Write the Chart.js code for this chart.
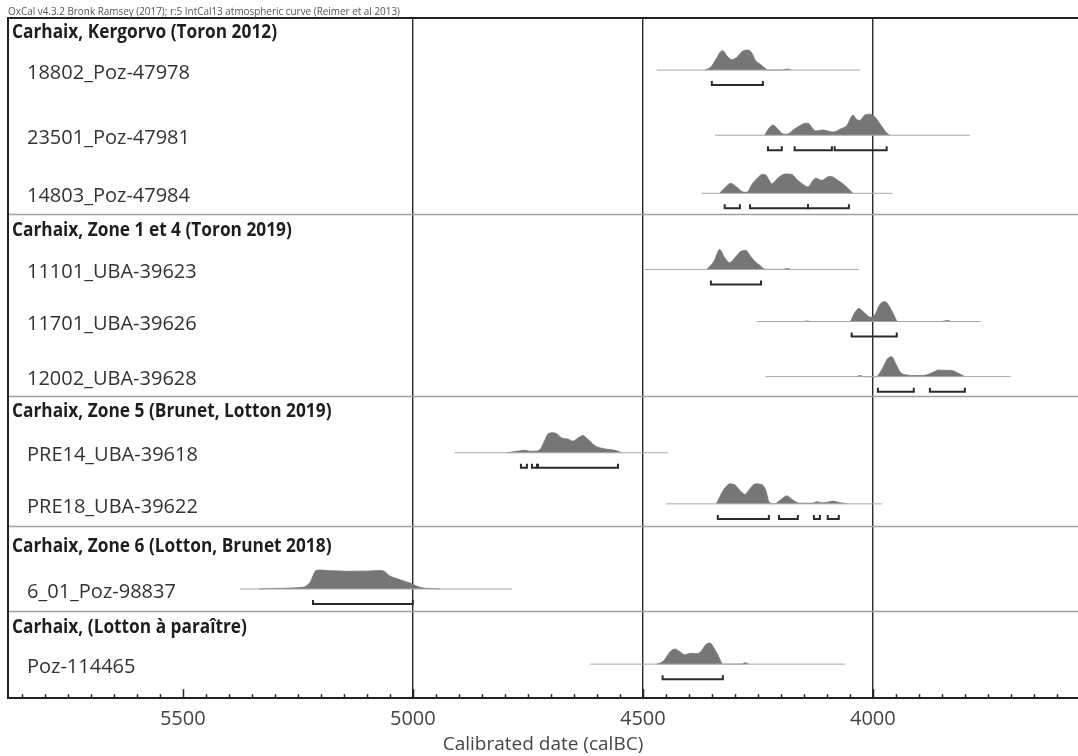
<!DOCTYPE html>
<html>
<head>
<meta charset="utf-8">
<script src="https://cdn.jsdelivr.net/npm/chart.js@4.4.1/dist/chart.umd.min.js"></script>
<style>
  html, body { margin: 0; padding: 0; background: #fff; }
  #wrap { width: 1078px; height: 756px; }
</style>
</head>
<body>
<div id="wrap"><canvas id="oxcal" width="1078" height="756"></canvas></div>
<script>
// header line printed by OxCal
const oxcalNote = "OxCal v4.3.2 Bronk Ramsey (2017); r:5 IntCal13 atmospheric curve (Reimer et al 2013)";
const axisTitle = "Calibrated date (calBC)";

const groups = [
  "Carhaix, Kergorvo (Toron 2012)",
  "Carhaix, Zone 1 et 4 (Toron 2019)",
  "Carhaix, Zone 5 (Brunet, Lotton 2019)",
  "Carhaix, Zone 6 (Lotton, Brunet 2018)",
  "Carhaix, (Lotton à paraître)",
];

const samples = [
  "18802_Poz-47978",
  "23501_Poz-47981",
  "14803_Poz-47984",
  "11101_UBA-39623",
  "11701_UBA-39626",
  "12002_UBA-39628",
  "PRE14_UBA-39618",
  "PRE18_UBA-39622",
  "6_01_Poz-98837",
  "Poz-114465",
];

// extent of the thin likelihood line, calBC
const spans = [
  [4470, 4028], [4343, 3789], [4372, 3957],
  [4496, 4030], [4252, 3765], [4233, 3700],
  [4909, 4446], [4450, 3980],
  [5376, 4785],
  [4615, 4061],
];

// posterior shapes: [year calBC, relative probability]
const p18802 = [[4365,0],[4352,0.15],[4340,0.55],[4332,0.85],[4326,0.92],[4318,0.7],[4307,0.5],[4296,0.6],[4284,0.88],[4274,0.95],[4264,0.85],[4255,0.45],[4246,0.3],[4236,0.12],[4228,0],[4195,0],[4187,0.05],[4178,0]];
const p23501 = [[4235,0],[4225,0.35],[4217,0.48],[4207,0.3],[4195,0.06],[4187,0.05],[4170,0.3],[4150,0.55],[4141,0.57],[4130,0.3],[4124,0.2],[4109,0.25],[4095,0.18],[4087,0.15],[4070,0.3],[4057,0.45],[4043,0.95],[4035,0.75],[4028,0.7],[4018,0.95],[4005,1.0],[3995,0.85],[3980,0.4],[3970,0.1],[3963,0]];
const p14803 = [[4333,0],[4320,0.3],[4309,0.48],[4296,0.3],[4280,0.05],[4274,0.05],[4262,0.45],[4252,0.7],[4240,0.9],[4235,0.9],[4226,0.65],[4220,0.45],[4205,0.75],[4190,0.92],[4175,0.88],[4165,0.65],[4150,0.4],[4141,0.3],[4130,0.62],[4124,0.72],[4111,0.62],[4095,0.8],[4087,0.78],[4075,0.6],[4065,0.45],[4050,0.15],[4043,0]];
const p11101 = [[4361,0],[4345,0.4],[4333,0.95],[4322,0.55],[4311,0.32],[4300,0.55],[4285,0.88],[4276,0.9],[4265,0.6],[4255,0.35],[4246,0.2],[4233,0],[4195,0],[4187,0.05],[4178,0]];
const p11701 = [[4150,0],[4143,0.03],[4135,0],[4050,0],[4040,0.4],[4030,0.62],[4018,0.4],[4005,0.2],[3995,0.35],[3985,0.8],[3974,0.95],[3965,0.75],[3955,0.35],[3946,0],[3850,0],[3839,0.05],[3828,0]];
const p12002 = [[4035,0],[4028,0.05],[4020,0],[3993,0],[3980,0.35],[3968,0.85],[3959,0.95],[3950,0.6],[3940,0.2],[3926,0.08],[3910,0.05],[3895,0.05],[3880,0.1],[3870,0.2],[3856,0.32],[3850,0.3],[3839,0.3],[3826,0.28],[3811,0.12],[3800,0]];
const pPRE14 = [[4795,0],[4770,0.08],[4757,0.12],[4745,0.07],[4730,0.08],[4722,0.2],[4713,0.6],[4705,0.92],[4695,0.95],[4687,0.9],[4676,0.7],[4663,0.65],[4652,0.55],[4641,0.7],[4630,0.82],[4620,0.65],[4605,0.35],[4590,0.22],[4572,0.15],[4557,0.1],[4546,0]];
const pPRE18 = [[4340,0],[4325,0.65],[4310,0.95],[4300,0.9],[4285,0.55],[4278,0.45],[4268,0.7],[4255,0.95],[4240,0.9],[4232,0.6],[4226,0.1],[4215,0],[4200,0.2],[4187,0.38],[4175,0.2],[4159,0.03],[4130,0.03],[4122,0.1],[4110,0.05],[4098,0.08],[4087,0.13],[4075,0.07],[4055,0]];
const p601 = [[5335,0],[5300,0.03],[5240,0.08],[5224,0.3],[5210,0.88],[5200,0.9],[5180,0.87],[5160,0.86],[5140,0.84],[5115,0.85],[5090,0.86],[5075,0.88],[5063,0.85],[5050,0.62],[5035,0.5],[5020,0.38],[5002,0.25],[4985,0.08],[4960,0.02],[4941,0]];
const p114465 = [[4470,0],[4455,0.15],[4440,0.6],[4430,0.72],[4420,0.6],[4409,0.45],[4395,0.52],[4385,0.5],[4376,0.55],[4362,0.95],[4354,1.0],[4345,0.75],[4335,0.35],[4326,0],[4285,0],[4278,0.07],[4270,0]];
const posteriors = [p18802, p23501, p14803, p11101, p11701, p12002, pPRE14, pPRE18, p601, p114465];

// 95.4% ranges, calBC
const ranges = [
  [[4350, 4239]],
  [[4228, 4198], [4170, 4089], [4083, 3970]],
  [[4322, 4289], [4267, 4141], [4141, 4052]],
  [[4352, 4243]],
  [[4046, 3948]],
  [[3989, 3911], [3876, 3800]],
  [[4765, 4752], [4741, 4730], [4728, 4554]],
  [[4337, 4226], [4204, 4163], [4128, 4115], [4098, 4074]],
  [[5217, 5000]],
  [[4457, 4326]],
];

const gridYears = [5000, 4500, 4000];
const labelYears = [5500, 5000, 4500, 4000];

// layout (y axis runs in page pixels)
const rowY = [70, 135, 193, 269, 321, 376, 452, 503, 588, 663];
const groupY = [33, 230, 411, 546, 627];
const sepY = [214, 395, 525, 610];
const PEAK = 21;
const FONT = "'Open Sans', 'Noto Sans', sans-serif";

const datasets = [];
samples.forEach((name, i) => {
  const base = rowY[i];
  datasets.push({
    data: spans[i].map(v => ({ x: v, y: base })),
    borderColor: "#a8a8a8",
    borderWidth: 1,
    pointRadius: 0,
  });
  datasets.push({
    data: posteriors[i].map(([yr, p]) => ({ x: yr, y: base - p * PEAK })),
    borderColor: "#767676",
    borderWidth: 0.8,
    backgroundColor: "#767676",
    fill: { value: base },
    pointRadius: 0,
    cubicInterpolationMode: "monotone",
  });
  ranges[i].forEach(([a, b]) => {
    const by = base + 15;
    datasets.push({
      data: [{ x: a, y: by - 4 }, { x: a, y: by }, { x: b, y: by }, { x: b, y: by - 4 }],
      borderColor: "#2a2a2a",
      borderWidth: 2,
      pointRadius: 0,
      borderJoinStyle: "miter",
    });
  });
});

function squeezedText(ctx, text, x, y, width) {
  const w = ctx.measureText(text).width;
  ctx.save();
  ctx.translate(x, y);
  ctx.scale(width / w, 1);
  ctx.fillText(text, 0, 0);
  ctx.restore();
}

const oxcalDecor = {
  id: "oxcalDecor",
  beforeDraw(chart) {
    const ctx = chart.ctx;
    ctx.save();
    ctx.fillStyle = "#fff";
    ctx.fillRect(0, 0, chart.width, chart.height);
    ctx.restore();
  },
  afterDraw(chart) {
    const { ctx, chartArea: a, scales: { x, y } } = chart;
    ctx.save();

    // group separators
    ctx.strokeStyle = "#a0a0a0";
    ctx.lineWidth = 1.5;
    sepY.forEach(v => {
      const py = Math.round(y.getPixelForValue(v)) + 0.5;
      ctx.beginPath();
      ctx.moveTo(a.left, py);
      ctx.lineTo(a.right, py);
      ctx.stroke();
    });

    // frame left and top
    ctx.strokeStyle = "#222";
    ctx.lineWidth = 2;
    ctx.beginPath();
    ctx.moveTo(a.left, a.bottom);
    ctx.lineTo(a.left, a.top);
    ctx.lineTo(a.right, a.top);
    ctx.stroke();

    // ticks pointing up from the axis, every 50 years
    ctx.lineWidth = 1.5;
    for (let v = 3600; v <= 5850; v += 50) {
      const px = Math.round(x.getPixelForValue(v)) + 0.5;
      const len = v % 500 === 0 ? 9 : 4;
      ctx.beginPath();
      ctx.moveTo(px, a.bottom);
      ctx.lineTo(px, a.bottom - len);
      ctx.stroke();
    }

    // texts
    ctx.textBaseline = "alphabetic";
    ctx.fillStyle = "#555";
    ctx.font = "11px " + FONT;
    squeezedText(ctx, oxcalNote, a.left, a.top - 3, 392);

    ctx.textBaseline = "middle";
    ctx.fillStyle = "#1e1e1e";
    ctx.font = "bold 19px " + FONT;
    const hs = 265 / ctx.measureText(groups[0]).width;
    groups.forEach((g, i) => {
      const w = ctx.measureText(g).width * hs;
      squeezedText(ctx, g, 12, y.getPixelForValue(groupY[i]), w);
    });

    ctx.fillStyle = "#333";
    ctx.font = "20px " + FONT;
    samples.forEach((s, i) => {
      ctx.fillText(s, 27, y.getPixelForValue(rowY[i] + 3));
    });
    ctx.restore();
  },
};

new Chart(document.getElementById("oxcal"), {
  type: "line",
  data: { datasets },
  options: {
    responsive: false,
    animation: false,
    layout: { padding: { left: 8, right: 0, top: 18, bottom: 0 } },
    plugins: { legend: { display: false }, tooltip: { enabled: false } },
    elements: { line: { tension: 0 } },
    scales: {
      x: {
        type: "linear",
        reverse: true,
        min: 3554,
        max: 5880,
        z: 1,
        border: { display: true, color: "#222", width: 2 },
        grid: {
          drawTicks: true,
          tickLength: 9,
          tickColor: "rgba(0,0,0,0)",
          lineWidth: 1.4,
          color: c => (c.tick && gridYears.includes(c.tick.value) ? "#2a2a2a" : "rgba(0,0,0,0)"),
        },
        ticks: {
          stepSize: 50,
          autoSkip: false,
          maxRotation: 0,
          padding: 0,
          color: "#444",
          font: { family: FONT, size: 20 },
          callback: v => (labelYears.includes(v) ? String(v) : ""),
        },
        title: {
          display: true,
          text: axisTitle,
          color: "#444",
          font: { family: FONT, size: 19 },
          padding: { top: 2, bottom: 0 },
        },
      },
      y: { display: false, min: 18, max: 697, reverse: true },
    },
  },
  plugins: [oxcalDecor],
});
</script>
</body>
</html>
